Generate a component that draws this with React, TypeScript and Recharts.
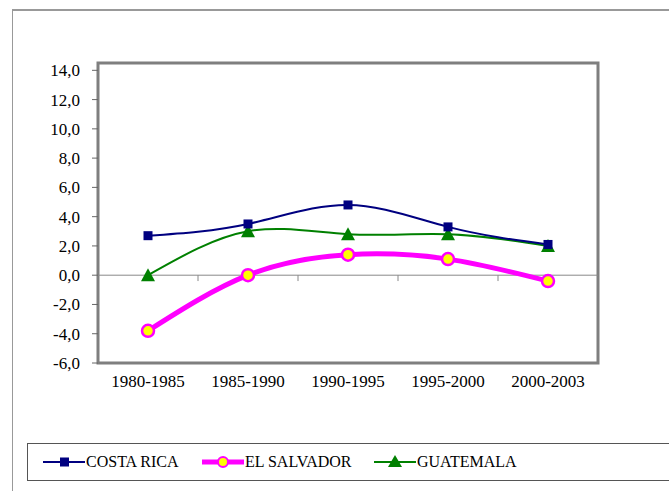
import {
  LineChart,
  Line,
  XAxis,
  YAxis,
  ReferenceArea,
  ReferenceLine,
} from 'recharts'

const periods = ['1980-1985', '1985-1990', '1990-1995', '1995-2000', '2000-2003']
const costaRica = [2.7, 3.5, 4.8, 3.3, 2.1]
const elSalvador = [-3.8, 0.0, 1.4, 1.1, -0.4]
const guatemala = [0.0, 3.0, 2.8, 2.8, 2.0]
const yTicks = [-6, -4, -2, 0, 2, 4, 6, 8, 10, 12, 14]
const bandEdges = [1, 2, 3, 4]

// each period sits in the middle of its band on a 0..5 numeric axis
const data = periods.map((p, i) => ({
  pos: i + 0.5,
  period: p,
  cr: costaRica[i],
  es: elSalvador[i],
  gt: guatemala[i],
}))
const xTicks = data.map((d) => d.pos)

const FONT = 'Liberation Serif, DejaVu Serif, serif'

const fmt = (v: number) => v.toFixed(1).replace('.', ',')
const periodLabel = (v: number) => periods[Math.floor(v)] ?? ''

function SquareDot(props: any) {
  const { cx, cy } = props
  if (cx == null || cy == null) return null
  return <rect x={cx - 4.5} y={cy - 4.5} width={9} height={9} fill="#000080" />
}

function CircleDot(props: any) {
  const { cx, cy } = props
  if (cx == null || cy == null) return null
  return <circle cx={cx} cy={cy} r={6} fill="#FFFF00" stroke="#FF00FF" strokeWidth={2.5} />
}

function TriangleDot(props: any) {
  const { cx, cy } = props
  if (cx == null || cy == null) return null
  return (
    <polygon
      points={`${cx},${cy - 7} ${cx - 7},${cy + 6} ${cx + 7},${cy + 6}`}
      fill="#008000"
    />
  )
}

const legendItems = [
  { name: 'COSTA RICA', color: '#000080', width: 2, marker: 'square' },
  { name: 'EL SALVADOR', color: '#FF00FF', width: 5, marker: 'circle' },
  { name: 'GUATEMALA', color: '#008000', width: 2, marker: 'triangle' },
]

function LegendBox() {
  return (
    <div
      style={{
        position: 'absolute',
        left: 27,
        top: 443,
        display: 'flex',
        alignItems: 'center',
        width: 660,
        height: 38,
        border: '1px solid #555',
        fontFamily: FONT,
        fontSize: 16,
        color: '#000',
        boxSizing: 'border-box',
        paddingLeft: 15,
      }}
    >
      {legendItems.map((it, i) => (
        <div
          key={it.name}
          style={{ display: 'flex', alignItems: 'center', width: i === 0 ? 159 : 172 }}
        >
          <svg width={42} height={20} style={{ marginRight: 1 }}>
            <line x1={0} y1={10} x2={42} y2={10} stroke={it.color} strokeWidth={it.width} />
            {it.marker === 'square' && <rect x={17} y={5.5} width={9} height={9} fill={it.color} />}
            {it.marker === 'circle' && (
              <circle cx={21} cy={10} r={5} fill="#FFFF00" stroke={it.color} strokeWidth={2} />
            )}
            {it.marker === 'triangle' && <polygon points="21,3 14,15 28,15" fill={it.color} />}
          </svg>
          <span>{it.name}</span>
        </div>
      ))}
    </div>
  )
}

export default function App() {
  return (
    <div
      style={{
        position: 'absolute',
        left: 0,
        top: 0,
        width: 669,
        height: 491,
        overflow: 'hidden',
        background: '#fff',
      }}
    >
      <div
        style={{
          position: 'absolute',
          left: 12,
          top: 9,
          width: 700,
          height: 520,
          border: '1px solid #999',
          borderWidth: '2px 0 0 1px',
        }}
      />
      <div style={{ position: 'absolute', left: 0, top: 0 }}>
        <LineChart
          width={669}
          height={491}
          data={data}
          margin={{ top: 63, right: 71, bottom: 98, left: 0 }}
        >
          <XAxis
            dataKey="pos"
            type="number"
            domain={[0, 5]}
            allowDataOverflow
            ticks={xTicks}
            interval={0}
            tickFormatter={periodLabel}
            axisLine={false}
            tickLine={false}
            tickSize={0}
            tickMargin={12}
            height={30}
            tick={{ fill: '#000', fontSize: 17, fontFamily: FONT }}
          />
          <YAxis
            width={98}
            domain={[-6, 14.5]}
            allowDataOverflow
            ticks={yTicks}
            interval={0}
            axisLine={false}
            tickSize={6}
            tickMargin={12}
            tickLine={{ stroke: '#666' }}
            tickFormatter={fmt}
            tick={{ fill: '#000', fontSize: 17, fontFamily: FONT }}
          />
          <ReferenceArea
            x1={0}
            x2={5}
            y1={-6}
            y2={14.5}
            fill="none"
            stroke="#7f7f7f"
            strokeWidth={3}
            ifOverflow="visible"
          />
          <ReferenceLine y={0} stroke="#888" strokeWidth={1} />
          {bandEdges.map((e) => (
            <ReferenceLine
              key={e}
              segment={[
                { x: e, y: 0 },
                { x: e, y: -0.4 },
              ]}
              stroke="#888"
              strokeWidth={1}
            />
          ))}
          <Line
            type="natural"
            dataKey="gt"
            name="GUATEMALA"
            stroke="#008000"
            strokeWidth={2}
            dot={<TriangleDot />}
            activeDot={false}
            isAnimationActive={false}
          />
          <Line
            type="natural"
            dataKey="cr"
            name="COSTA RICA"
            stroke="#000080"
            strokeWidth={2}
            dot={<SquareDot />}
            activeDot={false}
            isAnimationActive={false}
          />
          <Line
            type="natural"
            dataKey="es"
            name="EL SALVADOR"
            stroke="#FF00FF"
            strokeWidth={5}
            dot={<CircleDot />}
            activeDot={false}
            isAnimationActive={false}
          />
        </LineChart>
      </div>
      <LegendBox />
    </div>
  )
}
